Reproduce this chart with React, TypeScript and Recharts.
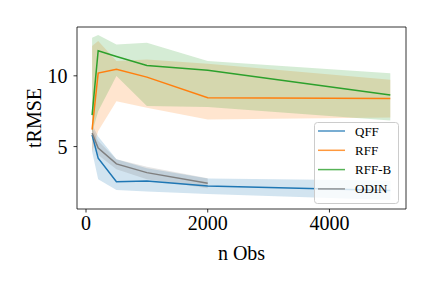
import {
  ComposedChart, Line, Area, XAxis, YAxis, ReferenceArea,
} from "recharts"

// n observations on the x axis
const nObs = [100, 200, 500, 1000, 2000, 5000]

// tRMSE mean + band per method
const qffMean = [5.83, 4.18, 2.52, 2.57, 2.22, 1.89]
const qffLow = [4.65, 2.69, 1.94, 1.82, 1.65, 1.23]
const qffHigh = [6.54, 5.71, 4.1, 3.47, 2.75, 2.6]

const rffMean = [6.2, 10.19, 10.47, 9.91, 8.45, 8.4]
const rffLow = [4.65, 6.1, 8.2, 7.74, 6.91, 7.05]
const rffHigh = [12.1, 12.46, 11.04, 11.16, 10.85, 9.72]

const rffbMean = [7.22, 11.77, 11.37, 10.73, 10.4, 8.64]
const rffbLow = [6.0, 7.5, 9.98, 7.86, 7.79, 6.84]
const rffbHigh = [12.69, 12.88, 12.22, 12.34, 11.04, 10.19]

// ODIN only goes up to 2000
const odinMean = [5.95, 4.89, 3.78, 3.16, 2.41]
const odinLow = [5.6, 4.4, 3.4, 2.69, 2.06]
const odinHigh = [6.3, 5.4, 4.1, 3.58, 2.76]

const xTicks = [0, 2000, 4000]
const yTicks = [5, 10]

const SERIES = [
  { key: "qff", name: "QFF", color: "#1f77b4" },
  { key: "rff", name: "RFF", color: "#ff7f0e" },
  { key: "rffb", name: "RFF-B", color: "#2ca02c" },
  { key: "odin", name: "ODIN", color: "#7f7f7f" },
]

const FONT = "'Liberation Serif', 'DejaVu Serif', serif"
const X_DOMAIN: [number, number] = [-148, 5258]
const Y_DOMAIN: [number, number] = [0.59, 13.45]

const data = nObs.map((n, i) => ({
  n,
  qff: qffMean[i],
  qffBand: [qffLow[i], qffHigh[i]],
  rff: rffMean[i],
  rffBand: [rffLow[i], rffHigh[i]],
  rffb: rffbMean[i],
  rffbBand: [rffbLow[i], rffbHigh[i]],
  odin: i < odinMean.length ? odinMean[i] : null,
  odinBand: i < odinMean.length ? [odinLow[i], odinHigh[i]] : null,
}))

function LegendBox() {
  return (
    <svg width={432} height={288} style={{ position: "absolute", left: 0, top: 0, pointerEvents: "none" }}>
      <rect x={314.5} y={122.5} width={84} height={81} rx={3} fill="rgba(255,255,255,0.8)" stroke="#cccccc" strokeWidth={1} />
      {SERIES.map((s, i) => {
        const y = 131 + i * 19.3
        return (
          <g key={s.key}>
            <line x1={318} x2={345} y1={y} y2={y} stroke={s.color} strokeOpacity={0.8} strokeWidth={1.5} />
            <text x={355} y={y} dy="0.35em" fontSize={13} fontFamily={FONT} fill="#000">{s.name}</text>
          </g>
        )
      })}
    </svg>
  )
}

export default function App() {
  const tickStyle = { fontSize: 20, fontFamily: FONT, fill: "#000" }
  return (
    <div style={{ position: "absolute", left: 0, top: 0, width: 432, height: 288, background: "#fff" }}>
      <ComposedChart width={432} height={288} data={data} margin={{ top: 27, right: 26, left: 0, bottom: 25 }}>
        <XAxis
          dataKey="n"
          type="number"
          domain={X_DOMAIN}
          ticks={xTicks}
          allowDataOverflow
          height={54}
          tickSize={3.5}
          tickMargin={3}
          tick={tickStyle}
          axisLine={false}
          tickLine={{ stroke: "#000", strokeWidth: 0.8 }}
        />
        <YAxis
          type="number"
          domain={Y_DOMAIN}
          ticks={yTicks}
          allowDataOverflow
          width={77}
          tickSize={3.5}
          tickMargin={6}
          tick={tickStyle}
          axisLine={false}
          tickLine={{ stroke: "#000", strokeWidth: 0.8 }}
        />
        {SERIES.map((s) => [
          <Line
            key={s.key}
            dataKey={s.key}
            stroke={s.color}
            strokeWidth={1.5}
            dot={false}
            isAnimationActive={false}
          />,
          <Area
            key={s.key + "Band"}
            dataKey={s.key + "Band"}
            stroke="none"
            fill={s.color}
            fillOpacity={0.2}
            isAnimationActive={false}
          />,
        ])}
        <ReferenceArea
          x1={X_DOMAIN[0]}
          x2={X_DOMAIN[1]}
          y1={Y_DOMAIN[0]}
          y2={Y_DOMAIN[1]}
          fill="none"
          stroke="#000"
          strokeWidth={0.8}
        />
      </ComposedChart>
      <svg width={432} height={288} style={{ position: "absolute", left: 0, top: 0, pointerEvents: "none" }}>
        <text x={241.5} y={260} textAnchor="middle" fontSize={20} fontFamily={FONT} fill="#000">n Obs</text>
        <text x={41} y={118} transform="rotate(-90, 41, 118)" textAnchor="middle" fontSize={20} fontFamily={FONT} fill="#000">tRMSE</text>
      </svg>
      <LegendBox />
    </div>
  )
}
